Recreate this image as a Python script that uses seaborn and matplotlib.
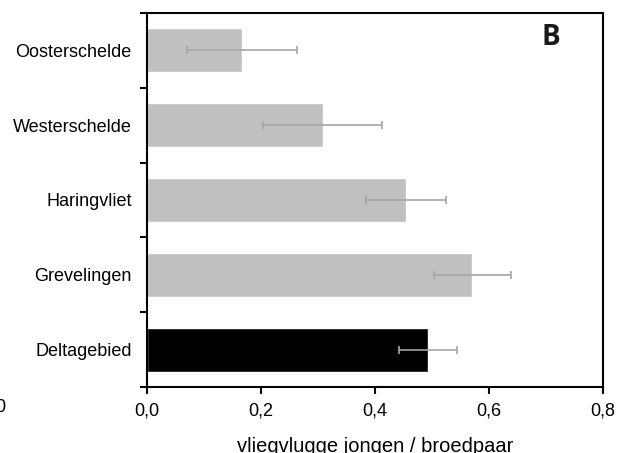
import matplotlib
matplotlib.use("Agg")
import matplotlib.pyplot as plt
from matplotlib.ticker import FixedLocator, FuncFormatter
import seaborn as sns
import numpy as np

# Fledging success per breeding pair, per sub-area of the Delta
gebieden = ["Oosterschelde", "Westerschelde", "Haringvliet", "Grevelingen", "Deltagebied"]
jongen_per_paar = [0.167, 0.308, 0.455, 0.571, 0.493]
fout = [0.097, 0.104, 0.070, 0.068, 0.051]
kleuren = ["#c0c0c0", "#c0c0c0", "#c0c0c0", "#c0c0c0", "#000000"]
x_ticks = [0.0, 0.2, 0.4, 0.6, 0.8]

sns.set_theme(style="ticks")
plt.rcParams["font.family"] = ["Liberation Sans", "DejaVu Sans"]

fig = plt.figure(figsize=(6.25, 4.53), dpi=100)
ax = fig.add_axes([0.2352, 0.1457, 0.7296, 0.8256])

sns.barplot(x=jongen_per_paar, y=gebieden, hue=gebieden, palette=kleuren,
            legend=False, orient="h", width=0.59, saturation=1, ax=ax,
            errorbar=None)

ax.errorbar(jongen_per_paar, np.arange(len(gebieden)), xerr=fout, fmt="none",
            ecolor="#a6a6a6", elinewidth=1.2, capsize=3, capthick=1.2, zorder=3)

ax.set_xlim(0, 0.8)
ax.set_ylim(len(gebieden) - 0.5, -0.5)

ax.xaxis.set_major_locator(FixedLocator(x_ticks))
ax.xaxis.set_major_formatter(FuncFormatter(lambda v, p: f"{v:.1f}".replace(".", ",")))

# category labels centred on bars, tick marks on the boundaries between them
ax.yaxis.set_minor_locator(FixedLocator(np.arange(-0.5, len(gebieden), 1.0)))
ax.tick_params(axis="y", which="major", length=0, pad=11, labelsize=13, colors="black")
ax.tick_params(axis="y", which="minor", length=5, width=1.5, direction="out", color="black")
ax.tick_params(axis="x", which="major", length=5, width=1.5, direction="out",
               pad=6, labelsize=13, colors="black")

for s in ax.spines.values():
    s.set_visible(True)
    s.set_linewidth(1.5)
    s.set_color("black")

ax.set_ylabel("")
ax.set_xlabel("vliegvlugge jongen / broedpaar", fontsize=14.5, labelpad=13, color="black")

ax.text(0.885, 0.935, "B", transform=ax.transAxes, fontsize=20, fontweight="bold",
        family=["Open Sans", "DejaVu Sans"], ha="center", va="center", color="#1a1a1a")

# trailing digit of the neighbouring panel's axis
fig.text(0.0, 1 - 408 / 453, "0", fontsize=13, ha="center", va="center", color="black")

fig.savefig("out.png", dpi=100)
